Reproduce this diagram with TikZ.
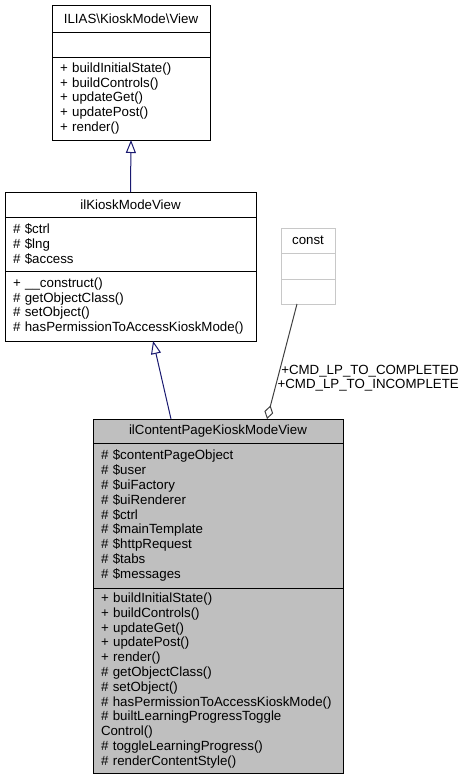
\documentclass[tikz,border=0pt]{standalone}
\usepackage{fontspec}
\setmainfont{Liberation Sans}
\usetikzlibrary{positioning,calc,arrows.meta}
\definecolor{edgeblue}{HTML}{191970}
\definecolor{boxgray}{HTML}{BFBFBF}
\definecolor{constline}{HTML}{C8C8C8}
\definecolor{aggline}{HTML}{404040}
\tikzstyle{umlcell}=[draw, line width=1pt, inner xsep=8pt, inner ysep=0pt, outer sep=0pt, font=\fontsize{13.3}{14.8}\selectfont]

\begin{document}
\begin{tikzpicture}[x=1pt,y=-1pt]
		\useasboundingbox (0,0) rectangle (465,780);
		% ILIAS\KioskMode\View
		\node[umlcell,anchor=north west,text width=142pt,align=center,minimum height=27pt] (Atitle) at (52,5) {ILIAS\textbackslash KioskMode\textbackslash View};
		\node[umlcell,below=0pt of Atitle,text width=142pt,minimum height=25pt] (Aattr) {};
		\node[umlcell,below=0pt of Aattr,text width=142pt,align=left,minimum height=83pt] (Ameth) {+ buildInitialState()\\+ buildControls()\\+ updateGet()\\+ updatePost()\\+ render()};
		% ilKioskModeView
		\node[umlcell,anchor=north west,text width=235pt,align=center,minimum height=25pt] (Btitle) at (5,192) {ilKioskModeView};
		\node[umlcell,below=0pt of Btitle,text width=235pt,align=left,minimum height=54pt] (Battr) {\# \$ctrl\\\# \$lng\\\# \$access};
		\node[umlcell,below=0pt of Battr,text width=235pt,align=left,minimum height=70pt] (Bmeth) {+ \_\_construct()\\\# getObjectClass()\\\# setObject()\\\mbox{\# hasPermissionToAccessKioskMode()}};
		% const
		\node[umlcell,draw=constline,anchor=north west,text width=38pt,align=center,minimum height=25pt] (Ctitle) at (281,228) {const};
		\node[umlcell,draw=constline,below=0pt of Ctitle,text width=38pt,minimum height=26pt] (Cattr) {};
		\node[umlcell,draw=constline,below=0pt of Cattr,text width=38pt,minimum height=25pt] (Cmeth) {};
		% ilContentPageKioskModeView
		\node[umlcell,fill=boxgray,anchor=north west,text width=234pt,align=center,minimum height=24pt] (Dtitle) at (93,419) {ilContentPageKioskModeView};
		\node[umlcell,fill=boxgray,below=0pt of Dtitle,text width=234pt,align=left,minimum height=145pt] (Dattr) {\# \$contentPageObject\\\# \$user\\\# \$uiFactory\\\# \$uiRenderer\\\# \$ctrl\\\# \$mainTemplate\\\# \$httpRequest\\\# \$tabs\\\# \$messages};
		\node[umlcell,fill=boxgray,below=0pt of Dattr,text width=234pt,align=left,minimum height=185pt] (Dmeth) {+ buildInitialState()\\+ buildControls()\\+ updateGet()\\+ updatePost()\\+ render()\\\# getObjectClass()\\\# setObject()\\\mbox{\# hasPermissionToAccessKioskMode()}\\\# builtLearningProgressToggle\\Control()\\\# toggleLearningProgress()\\\# renderContentStyle()};
		% edges
		\draw[edgeblue,line width=1pt,-{Triangle[open,length=13pt,width=10pt]}] (Btitle.north) -- (Ameth.south);
		\draw[edgeblue,line width=1pt,-{Triangle[open,length=13pt,width=10pt]}] ($(Dtitle.north west)!0.312!(Dtitle.north east)$) -- ($(Bmeth.south west)!0.59!(Bmeth.south east)$);
		\draw[aggline,line width=1pt,{Diamond[open,length=14pt,width=9pt]}-] ($(Dtitle.north west)!0.696!(Dtitle.north east)$) -- ($(Cmeth.south west)!0.296!(Cmeth.south east)$);
		\node[anchor=east,align=right,inner sep=0pt,font=\fontsize{13.3}{13.5}\selectfont] (aglabel) at (459,378) {+CMD\_LP\_TO\_COMPLETED\\+CMD\_LP\_TO\_INCOMPLETE};
\end{tikzpicture}
\end{document}
